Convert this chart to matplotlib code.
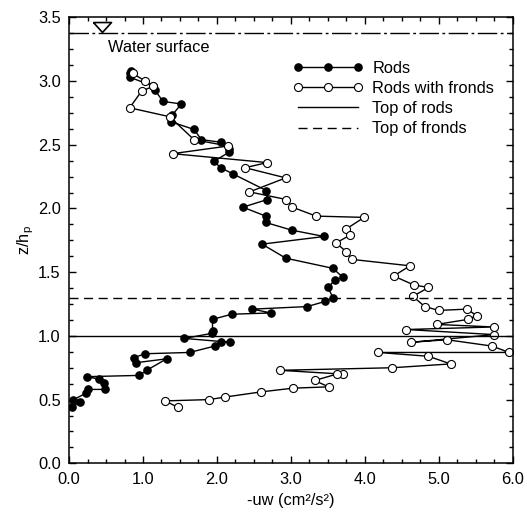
import numpy as np
import matplotlib
matplotlib.use('Agg')
import matplotlib.pyplot as plt
from matplotlib.ticker import MultipleLocator, FormatStrFormatter

# --------- data -----------

# rods only: -uw and z/hp, listed from the surface down
rods_uw = [0.84, 0.82, 0.82, 1.14, 1.16, 1.27, 1.52, 1.39, 1.38, 1.69,
           1.79, 2.05, 2.16, 2.16, 1.96, 2.05, 2.22, 2.67, 2.68, 2.35,
           2.66, 2.66, 3.01, 3.45, 2.61, 2.93, 3.57, 3.70, 3.60, 3.50,
           3.57, 3.46, 3.22, 2.48, 2.73, 2.20, 1.94, 1.94, 1.93, 1.56,
           2.18, 2.06, 1.97, 1.63, 1.03, 0.88, 0.91, 1.32, 1.05, 0.95,
           0.24, 0.41, 0.47, 0.49, 0.26, 0.23, 0.06, 0.15, 0.04]
rods_z = [3.08, 3.06, 3.03, 2.96, 2.93, 2.84, 2.82, 2.73, 2.68, 2.62,
          2.54, 2.52, 2.47, 2.44, 2.37, 2.32, 2.27, 2.14, 2.07, 2.01,
          1.94, 1.89, 1.83, 1.78, 1.72, 1.61, 1.53, 1.46, 1.44, 1.38,
          1.30, 1.27, 1.23, 1.21, 1.18, 1.17, 1.13, 1.04, 1.02, 0.98,
          0.95, 0.955, 0.92, 0.87, 0.86, 0.83, 0.79, 0.82, 0.73, 0.69,
          0.68, 0.66, 0.63, 0.58, 0.58, 0.55, 0.50, 0.48, 0.44]

# rods with fronds
frond_uw = [0.86, 1.03, 1.14, 0.98, 0.82, 1.36, 1.69, 2.15, 1.40, 2.68,
            2.38, 2.93, 2.44, 2.94, 3.02, 3.34, 3.99, 3.75, 3.80, 3.61,
            3.75, 3.83, 4.61, 4.39, 4.66, 4.86, 4.65, 4.81, 5.00, 5.38,
            5.51, 5.40, 4.97, 5.74, 4.56, 5.75, 4.63, 5.11, 5.72, 5.95,
            4.18, 4.86, 5.16, 4.37, 2.85, 3.70, 3.62, 3.32, 3.51, 3.03,
            2.59, 2.11, 1.89, 1.30, 1.47]
frond_z = [3.06, 3.00, 2.96, 2.92, 2.79, 2.72, 2.54, 2.49, 2.43, 2.36,
           2.32, 2.24, 2.13, 2.07, 2.01, 1.94, 1.93, 1.84, 1.79, 1.73,
           1.66, 1.60, 1.55, 1.47, 1.40, 1.38, 1.31, 1.23, 1.20, 1.21,
           1.16, 1.13, 1.09, 1.07, 1.05, 1.01, 0.95, 0.97, 0.92, 0.87,
           0.87, 0.84, 0.78, 0.75, 0.73, 0.70, 0.70, 0.65, 0.60, 0.59,
           0.56, 0.52, 0.50, 0.49, 0.44]

top_rods = 1.0
top_fronds = 1.3
water_level = 3.38

# --------- plot-params -----------

plt.rcParams['font.family'] = ['Liberation Sans', 'DejaVu Sans']
fs = 11.8
mylw = 1.0

fig = plt.figure(figsize=(5.27, 5.14), dpi=100)
ax = fig.add_axes([0.131, 0.0986, 0.842, 0.8677])

ax.plot(rods_uw, rods_z, color='black', lw=mylw, marker='o', ms=5.2,
        mfc='black', mec='black', label='Rods')
ax.plot(frond_uw, frond_z, color='black', lw=mylw, marker='o', ms=5.8,
        mfc='white', mec='black', mew=0.8, label='Rods with fronds')
ax.axhline(top_rods, color='black', lw=mylw, label='Top of rods')
ax.axhline(top_fronds, color='black', lw=mylw, dashes=(6.5, 4),
           label='Top of fronds')

# water surface
ax.axhline(water_level, color='black', lw=mylw, dashes=(14, 2.5, 2, 2.5))
tri = [(-1, 0.55), (1, 0.55), (0, -0.55), (-1, 0.55)]
ax.plot([0.44], [water_level + 0.045], marker=tri, ms=13, mfc='white',
        mec='black', mew=1.2, ls='none')
ax.text(0.53, 3.26, 'Water surface', fontsize=fs, va='center', ha='left')

ax.set_xlim(0, 6)
ax.set_ylim(0, 3.5)
ax.xaxis.set_major_locator(MultipleLocator(1.0))
ax.xaxis.set_minor_locator(MultipleLocator(0.25))
ax.yaxis.set_major_locator(MultipleLocator(0.5))
ax.yaxis.set_minor_locator(MultipleLocator(0.125))
ax.xaxis.set_major_formatter(FormatStrFormatter('%.1f'))
ax.yaxis.set_major_formatter(FormatStrFormatter('%.1f'))
ax.tick_params(which='both', direction='in', top=True, right=True,
               labelsize=fs, width=1.0)
ax.tick_params(axis='x', which='both', pad=6.5)
ax.tick_params(axis='y', which='both', pad=6)
ax.tick_params(which='major', length=5)
ax.tick_params(which='minor', length=3)
for sp in ax.spines.values():
    sp.set_linewidth(1.1)

ax.set_xlabel('-uw (cm\u00b2/s\u00b2)', fontsize=fs, labelpad=4)
ax.set_ylabel('z/h$_{\\mathregular{p}}$', fontsize=fs, labelpad=1)

ax.legend(loc='upper left', bbox_to_anchor=(0.504, 0.903), frameon=False,
          numpoints=3, fontsize=fs, handlelength=4.27, handletextpad=0.6,
          labelspacing=0.32, borderpad=0, borderaxespad=0)

plt.savefig('out.png', dpi=100)
